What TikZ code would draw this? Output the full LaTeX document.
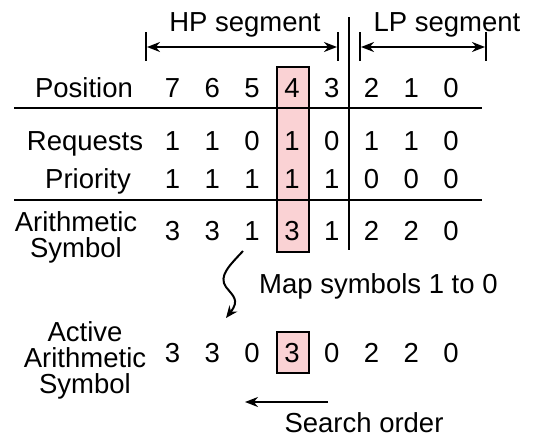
\documentclass[tikz,border=0pt]{standalone}
\usepackage{fontspec}
\setmainfont{Liberation Sans}
\usetikzlibrary{arrows.meta}
\definecolor{hilite}{RGB}{250,210,212}
\begin{document}
\begin{tikzpicture}[x=1pt,y=-1pt,
  every node/.style={inner sep=0pt, font=\fontsize{27.5}{26}\selectfont},
  cell/.style={anchor=base},
  rowlabel/.style={anchor=base, align=center},
  rule/.style={line width=2pt},
  hibox/.style={draw=black, fill=hilite, line width=2pt, inner sep=0pt},
  tip/.tip={Stealth[length=13pt,width=10pt]},
  arr/.style={line width=2pt, -tip},
  darr/.style={line width=2pt, tip-tip},
]
\useasboundingbox (0,0) rectangle (535,437);

% highlighted column (position 4)
\node[hibox, minimum width=32pt, minimum height=185pt] (col) at (293,159.5) {};
\node[hibox, minimum width=32pt, minimum height=41pt] (act) at (293,352.5) {};

% table rules and segment divider
\coordinate (r1w) at (14,108);  \coordinate (r1e) at (482,108);
\coordinate (r2w) at (14,200);  \coordinate (r2e) at (482,200);
\coordinate (dvt) at (349,17);  \coordinate (dvb) at (349,250);
\draw[rule] (r1w) -- (r1e);
\draw[rule] (r2w) -- (r2e);
\draw[rule] (dvt) -- (dvb);

% segment extents
\coordinate (hpLt) at (146,32); \coordinate (hpLb) at (146,61);
\coordinate (hpRt) at (338,32); \coordinate (hpRb) at (338,61);
\coordinate (lpLt) at (360,32); \coordinate (lpLb) at (360,61);
\coordinate (lpRt) at (486,32); \coordinate (lpRb) at (486,61);
\draw[rule] (hpLt) -- (hpLb);
\draw[rule] (hpRt) -- (hpRb);
\draw[rule] (lpLt) -- (lpLb);
\draw[rule] (lpRt) -- (lpRb);
\coordinate (hpL) at (147,47); \coordinate (hpR) at (337,47);
\coordinate (lpL) at (361,47); \coordinate (lpR) at (485,47);
\draw[darr] (hpL) -- (hpR);
\draw[darr] (lpL) -- (lpR);
\node[anchor=base] (hp) at (245,31) {HP segment};
\node[anchor=base] (lp) at (447,31) {LP segment};

% row labels (a multi-line label sits on the baseline of its last line)
\node[rowlabel] (lpos) at (84,97) {Position};
\node[rowlabel] (lreq) at (85,150) {Requests};
\node[rowlabel] (lpri) at (88,188) {Priority};
\node[rowlabel] (lari) at (76,257) {Arithmetic\\Symbol};
\node[rowlabel] (lact) at (85,393) {Active\\Arithmetic\\Symbol};

% row values
\foreach \v [count=\i from 0] in {7,6,5,4,3,2,1,0}
  \node[cell] (pos\i) at ({172.5+39.8*\i},97) {\v};
\foreach \v [count=\i from 0] in {1,1,0,1,0,1,1,0}
  \node[cell] (req\i) at ({172.5+39.8*\i},150) {\v};
\foreach \v [count=\i from 0] in {1,1,1,1,1,0,0,0}
  \node[cell] (pri\i) at ({172.5+39.8*\i},188) {\v};
\foreach \v [count=\i from 0] in {3,3,1,3,1,2,2,0}
  \node[cell] (ari\i) at ({172.5+39.8*\i},240) {\v};
\foreach \v [count=\i from 0] in {3,3,0,3,0,2,2,0}
  \node[cell] (aas\i) at ({172.5+39.8*\i},362) {\v};

% mapping step
\coordinate (mapS) at (243,251);
\coordinate (mapE) at (226,318);
\draw[line width=2pt, -{Stealth[length=12pt,width=10pt]}]
  (mapS) .. controls (230,265) and (218,276) .. (226,287)
         .. controls (233,296) and (240,300) .. (mapE);
\node[anchor=base west] (map) at (259,293) {Map symbols 1 to 0};

% search direction
\coordinate (srS) at (328,402);
\coordinate (srE) at (245,402);
\draw[arr] (srS) -- (srE);
\node[anchor=base] (search) at (364,432) {Search order};
\end{tikzpicture}
\end{document}
